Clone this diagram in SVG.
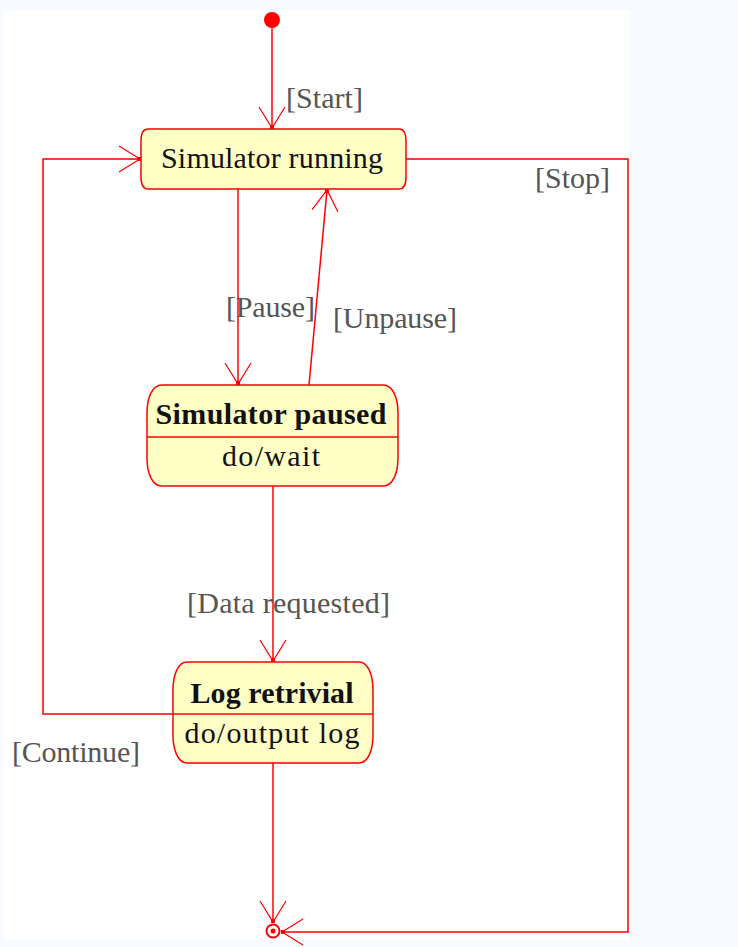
<svg xmlns="http://www.w3.org/2000/svg" width="738" height="947" viewBox="0 0 738 947">
<style>
.node{fill:#ffffc6;stroke:#ff0000;stroke-width:1.5}
.div{stroke:#ff0000;stroke-width:1.5}
.edge{fill:none;stroke:#ff0000;stroke-width:1.5}
.t{font-family:"Liberation Serif","DejaVu Serif",serif;font-size:30px;fill:#111;text-anchor:middle}
.b{font-weight:bold}
.lbl{font-family:"Liberation Serif","DejaVu Serif",serif;font-size:30px;fill:#555}
</style>
<defs>
<marker id="arr" markerUnits="userSpaceOnUse" viewBox="-26 -16 30 32" refX="0" refY="0" markerWidth="30" markerHeight="32" orient="auto">
<path d="M-21,-13 L0,0 L-21,13" fill="none" stroke="#ff0000" stroke-width="1.2"/>
<rect x="-3" y="-2" width="4" height="4" fill="#ff0000"/>
</marker>
</defs>
<rect x="0" y="0" width="738" height="947" fill="#f7fbff"/>
<rect x="4" y="10" width="626" height="930" fill="#ffffff"/>
<g id="start"><circle cx="272" cy="20" r="8" fill="#ff0000"/></g>
<g id="connectors">
<path class="edge" d="M272,28 V128" marker-end="url(#arr)"/>
<path class="edge" d="M238,189 V384" marker-end="url(#arr)"/>
<path class="edge" d="M309,385 L327,190" marker-end="url(#arr)"/>
<path class="edge" d="M273,486 V661" marker-end="url(#arr)"/>
<path class="edge" d="M173,714 H43 V159 H140" marker-end="url(#arr)"/>
<path class="edge" d="M406,159 H628 V932 H282" marker-end="url(#arr)"/>
<path class="edge" d="M273,763 V922" marker-end="url(#arr)"/>
</g>
<g id="running">
<path class="node" d="M148,129 H399 C404,129 406,134 406,141 V177 C406,184 404,189 399,189 H148 C143,189 141,184 141,177 V141 C141,134 143,129 148,129 Z"/>
<text class="t" x="272" y="168" textLength="222">Simulator running</text>
</g>
<g id="paused">
<path class="node" d="M162,385 H383 C393,385 398,398 398,413 V458 C398,473 393,486 383,486 H162 C152,486 147,473 147,458 V413 C147,398 152,385 162,385 Z"/>
<line class="div" x1="147" y1="437" x2="398" y2="437"/>
<text class="t b" x="271" y="424" textLength="231">Simulator paused</text>
<text class="t" x="271" y="466" textLength="98">do/wait</text>
</g>
<g id="log">
<path class="node" d="M187,662 H359 C368,662 373,675 373,690 V735 C373,750 368,763 359,763 H187 C178,763 173,750 173,735 V690 C173,675 178,662 187,662 Z"/>
<line class="div" x1="173" y1="714" x2="373" y2="714"/>
<text class="t b" x="272" y="703" textLength="163">Log retrivial</text>
<text class="t" x="272" y="743" textLength="175">do/output log</text>
</g>
<g id="end">
<circle cx="273" cy="931" r="6.5" fill="#ffffff" stroke="#ff0000" stroke-width="2"/>
<circle cx="273" cy="931" r="2.5" fill="#ff0000"/>
</g>
<g id="labels">
<text class="lbl" x="286" y="108" textLength="77">[Start]</text>
<text class="lbl" x="535" y="188" textLength="75">[Stop]</text>
<text class="lbl" x="226" y="317" textLength="89">[Pause]</text>
<text class="lbl" x="333" y="328" textLength="124">[Unpause]</text>
<text class="lbl" x="187" y="613" textLength="203">[Data requested]</text>
<text class="lbl" x="12" y="762" textLength="128">[Continue]</text>
</g>
</svg>
